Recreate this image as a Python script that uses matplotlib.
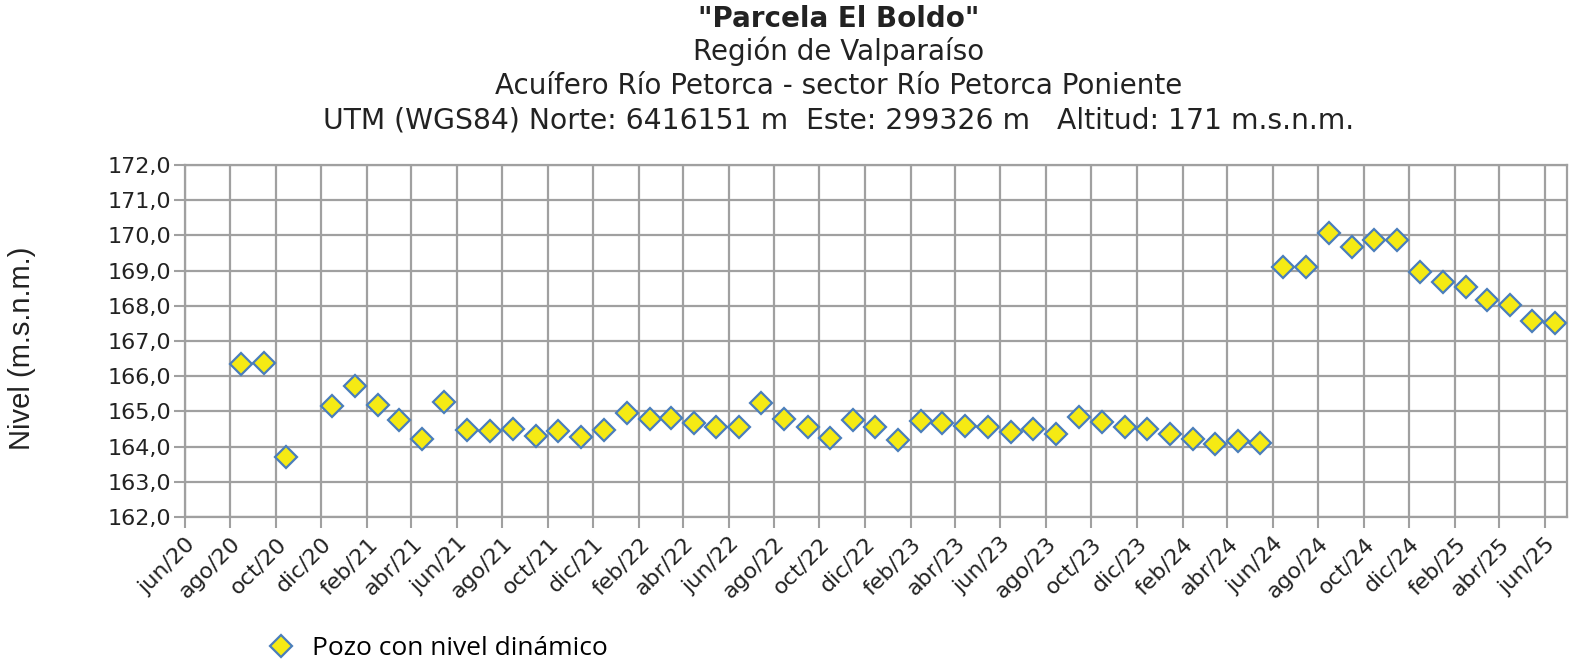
import pandas as pd
import matplotlib
matplotlib.use("Agg")
import matplotlib.pyplot as plt

# Measurement months (mid-month) and static level values (m.s.n.m.)
months = ["2020-08", "2020-09", "2020-10",
          "2020-12", "2021-01", "2021-02", "2021-03", "2021-04", "2021-05",
          "2021-06", "2021-07", "2021-08", "2021-09", "2021-10", "2021-11",
          "2021-12", "2022-01", "2022-02", "2022-03", "2022-04", "2022-05",
          "2022-06", "2022-07", "2022-08", "2022-09", "2022-10", "2022-11",
          "2022-12", "2023-01", "2023-02", "2023-03", "2023-04", "2023-05",
          "2023-06", "2023-07", "2023-08", "2023-09", "2023-10", "2023-11",
          "2023-12", "2024-01", "2024-02", "2024-03", "2024-04", "2024-05",
          "2024-06", "2024-07", "2024-08", "2024-09", "2024-10", "2024-11",
          "2024-12", "2025-01", "2025-02", "2025-03", "2025-04", "2025-05",
          "2025-06"]
nivel = [166.35, 166.38, 163.70,
         165.14, 165.73, 165.18, 164.77, 164.21, 165.27,
         164.46, 164.45, 164.49, 164.31, 164.45, 164.26,
         164.46, 164.95, 164.78, 164.80, 164.68, 164.55,
         164.55, 165.25, 164.79, 164.55, 164.25, 164.77,
         164.56, 164.18, 164.73, 164.68, 164.58, 164.57,
         164.41, 164.50, 164.35, 164.83, 164.70, 164.57,
         164.50, 164.35, 164.21, 164.08, 164.17, 164.11,
         169.09, 169.09, 170.07, 169.67, 169.88, 169.88,
         168.97, 168.68, 168.54, 168.17, 168.02, 167.58,
         167.50]

y_ticks = [162, 163, 164, 165, 166, 167, 168, 169, 170, 171, 172]
y_labels = ["162,0", "163,0", "164,0", "165,0", "166,0", "167,0",
            "168,0", "169,0", "170,0", "171,0", "172,0"]
meses = ["ene", "feb", "mar", "abr", "may", "jun",
         "jul", "ago", "sep", "oct", "nov", "dic"]

fechas = pd.to_datetime([m + "-15" for m in months])
tick_dates = pd.date_range("2020-06-01", "2025-06-01", freq="2MS")
tick_labels = [f"{meses[d.month - 1]}/{d.year % 100:02d}" for d in tick_dates]

txt = "#222222"
grid_c = "#a0a0a0"

fig = plt.figure(figsize=(15.87, 6.71), dpi=100)
ax = fig.add_axes([0.1166, 0.2295, 0.8708, 0.5245])

ax.plot(fechas, nivel, linestyle="none", marker="D", markersize=11.5,
        markerfacecolor="#f5ea14", markeredgecolor="#4a7ebb",
        markeredgewidth=1.6, label="Pozo con nivel dinámico", zorder=3)

ax.set_xlim(pd.Timestamp("2020-06-01"), pd.Timestamp("2025-07-01"))
ax.set_ylim(162, 172)
ax.set_yticks(y_ticks)
ax.set_yticklabels(y_labels, fontsize=16, color=txt)
ax.set_xticks(tick_dates)
ax.set_xticklabels(tick_labels, rotation=45, ha="right",
                   rotation_mode="anchor", fontsize=16, color=txt)
ax.tick_params(axis="both", length=8, width=1.5, color=grid_c)
ax.tick_params(axis="y", pad=2)
ax.tick_params(axis="x", pad=4)
ax.grid(True, color=grid_c, linewidth=1.6)
ax.set_axisbelow(True)
for s in ax.spines.values():
    s.set_color(grid_c)
    s.set_linewidth(1.6)

fig.text(0.014, 0.481, "Nivel (m.s.n.m.)", rotation=90, ha="center",
         va="center", fontsize=21, family="Liberation Sans", color=txt)

# titles are centred a bit right of the figure centre in the original
cx = 0.5287
fig.text(cx, 0.972, '"Parcela El Boldo"', ha="center", va="center",
         fontsize=20, fontweight="bold", color=txt)
fig.text(cx, 0.923, "Región de Valparaíso", ha="center", va="center",
         fontsize=20, color=txt)
fig.text(cx, 0.872, "Acuífero Río Petorca - sector Río Petorca Poniente",
         ha="center", va="center", fontsize=20, color=txt)
fig.text(cx, 0.820,
         "UTM (WGS84) Norte: 6416151 m  Este: 299326 m   Altitud: 171 m.s.n.m.",
         ha="center", va="center", fontsize=20.3, color=txt)

fig.legend(loc="center left", bbox_to_anchor=(0.152, 0.033), frameon=False,
           handlelength=1.2, handletextpad=0.6, markerscale=0.95,
           prop={"family": "Open Sans", "size": 19})

fig.savefig("out.png", dpi=100)
